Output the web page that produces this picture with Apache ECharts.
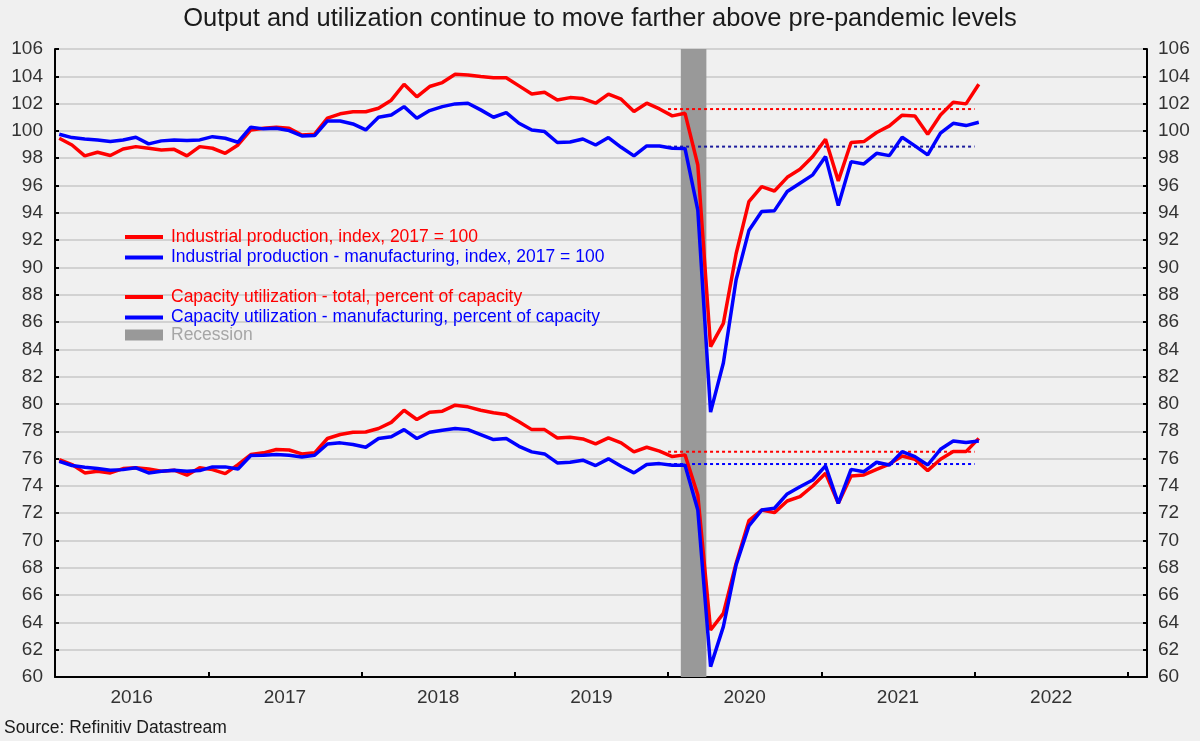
<!DOCTYPE html>
<html>
<head>
<meta charset="utf-8">
<script src="https://cdn.jsdelivr.net/npm/echarts@6/dist/echarts.min.js"></script>
<style>
  html, body { margin: 0; padding: 0; background: #f0f0f0; }
  #chart { width: 1200px; height: 741px; }
</style>
</head>
<body>
<div id="chart"></div>
<script>
// monthly data, Jan 2016 .. Jan 2022
const ipTotal = [
  99.46, 98.97, 98.17, 98.44, 98.2, 98.68, 98.85, 98.73, 98.6, 98.65, 98.17, 98.85,
  98.73, 98.36, 98.97, 100.07, 100.2, 100.27, 100.2, 99.7, 99.76, 100.93, 101.25, 101.4,
  101.4, 101.66, 102.25, 103.42, 102.5, 103.25, 103.54, 104.15, 104.1, 103.98, 103.9, 103.9,
  103.3, 102.7, 102.83, 102.27, 102.44, 102.37, 102.03, 102.69, 102.32, 101.42, 102.03, 101.61,
  101.1, 101.29, 97.5, 84.2, 85.9, 91.0, 94.82, 95.92, 95.6, 96.6, 97.19, 98.12,
  99.39, 96.34, 99.15, 99.22, 99.88, 100.37, 101.15, 101.1, 99.76, 101.17, 102.1, 101.98,
  103.42
];
const ipMfg = [
  99.76, 99.51, 99.41, 99.34, 99.22, 99.34, 99.54, 99.05, 99.27, 99.34, 99.29, 99.34,
  99.58, 99.46, 99.17, 100.27, 100.15, 100.2, 100.02, 99.63, 99.66, 100.73, 100.73, 100.51,
  100.07, 101.0, 101.17, 101.78, 100.93, 101.49, 101.78, 101.98, 102.03, 101.54, 101.0, 101.34,
  100.56, 100.07, 99.95, 99.15, 99.19, 99.41, 98.97, 99.51, 98.8, 98.17, 98.9, 98.9,
  98.73, 98.71, 94.2, 79.4, 83.0, 89.1, 92.7, 94.09, 94.16, 95.56, 96.17, 96.78,
  98.12, 94.53, 97.75, 97.58, 98.36, 98.19, 99.54, 98.9, 98.24, 99.83, 100.56, 100.39,
  100.63
];
const cuTotal = [
  75.93, 75.56, 74.95, 75.07, 74.95, 75.27, 75.32, 75.24, 75.07, 75.15, 74.78, 75.32,
  75.19, 74.9, 75.56, 76.29, 76.42, 76.66, 76.63, 76.34, 76.42, 77.47, 77.76, 77.93,
  77.95, 78.2, 78.65, 79.54, 78.86, 79.39, 79.47, 79.91, 79.79, 79.54, 79.35, 79.22,
  78.69, 78.12, 78.12, 77.51, 77.56, 77.44, 77.07, 77.51, 77.15, 76.49, 76.83, 76.54,
  76.15, 76.27, 73.33, 63.44, 64.66, 68.33, 71.45, 72.23, 72.04, 72.89, 73.21, 73.99,
  74.92, 72.72, 74.73, 74.8, 75.21, 75.6, 76.19, 75.95, 75.12, 75.95, 76.51, 76.51,
  77.48
];
const cuMfg = [
  75.8, 75.49, 75.37, 75.27, 75.15, 75.19, 75.32, 74.95, 75.07, 75.15, 75.07, 75.12,
  75.39, 75.39, 75.24, 76.22, 76.24, 76.29, 76.24, 76.12, 76.24, 77.07, 77.15, 77.03,
  76.83, 77.47, 77.6, 78.12, 77.47, 77.93, 78.08, 78.2, 78.12, 77.76, 77.39, 77.47,
  76.9, 76.49, 76.34, 75.68, 75.73, 75.88, 75.49, 75.98, 75.44, 74.95, 75.56, 75.63,
  75.51, 75.51, 72.23, 60.76, 63.69, 68.21, 71.06, 72.23, 72.36, 73.41, 73.94, 74.43,
  75.46, 72.72, 75.21, 75.04, 75.73, 75.53, 76.51, 76.14, 75.53, 76.68, 77.29, 77.17,
  77.29
];

// pre-pandemic reference levels (dotted), in the same order as above
const preLevels = [101.6, 98.85, 76.5, 75.6];
const preSpan = [48, 72];          // months from Jan 2016
const recession = [49, 51];        // Feb 2020 .. Apr 2020
const years = [2016, 2017, 2018, 2019, 2020, 2021, 2022];

const names = [
  'Industrial production, index, 2017 = 100',
  'Industrial production - manufacturing, index, 2017 = 100',
  'Capacity utilization - total, percent of capacity',
  'Capacity utilization - manufacturing, percent of capacity',
];

const RED = '#ff0000';
const BLUE = '#0000ff';
const FONT = 'Liberation Sans, Arial, sans-serif';

// month index -> x position (points sit a little into the month)
let toPoints = function(arr) {
  return arr.map((v, i) => [i + 0.33, v]);
};

let lineSeries = function(name, data, color) {
  return {
    name: name,
    type: 'line',
    data: toPoints(data),
    showSymbol: false,
    symbol: 'none',
    z: 3,
    lineStyle: { color: color, width: 3.5 },
    itemStyle: { color: color },
  };
};

let dottedSeries = function(level, color) {
  return {
    type: 'line',
    data: [[preSpan[0], level], [preSpan[1], level]],
    symbol: 'none',
    z: 2,
    lineStyle: { color: color, width: 2, type: [3, 3] },
  };
};

const chart = echarts.init(document.getElementById('chart'));

const legendBase = {
  orient: 'vertical',
  left: 125,
  padding: 0,
  itemGap: 2.5,
  itemWidth: 38,
  itemHeight: 4,
  icon: 'rect',
  selectedMode: false,
  textStyle: { fontFamily: FONT, fontSize: 17.5, padding: [0, 0, 0, 3] },
};

const option = {
  backgroundColor: '#f0f0f0',
  animation: false,
  title: [
    {
      text: 'Output and utilization continue to move farther above pre-pandemic levels',
      left: 'center',
      top: 6,
      padding: 0,
      textStyle: { fontFamily: FONT, fontSize: 25.5, fontWeight: 'normal', color: '#1a1a1a' },
    },
    {
      text: 'Source: Refinitiv Datastream',
      left: 4,
      top: 719,
      padding: 0,
      textStyle: { fontFamily: FONT, fontSize: 17.5, fontWeight: 'normal', color: '#1a1a1a' },
    },
  ],
  legend: [
    Object.assign({}, legendBase, {
      top: 228,
      data: [
        { name: names[0], textStyle: { color: RED } },
        { name: names[1], textStyle: { color: BLUE } },
      ],
    }),
    Object.assign({}, legendBase, {
      top: 288,
      data: [
        { name: names[2], textStyle: { color: RED } },
        { name: names[3], textStyle: { color: BLUE } },
      ],
    }),
    Object.assign({}, legendBase, {
      top: 326,
      itemHeight: 11,
      data: [{ name: 'Recession', textStyle: { color: '#a6a6a6' } }],
    }),
  ],
  grid: { left: 55, right: 53, top: 49, bottom: 64 },
  xAxis: {
    type: 'value',
    min: 0,
    max: 85.5,
    interval: 12,
    axisLine: { lineStyle: { color: '#000', width: 2 } },
    axisTick: {
      inside: true,
      length: 5,
      lineStyle: { color: '#000', width: 2 },
      customValues: [0, 12, 24, 36, 48, 60, 72, 84],
    },
    axisLabel: {
      customValues: years.map((y, i) => i * 12 + 6),
      formatter: v => String(years[Math.round((v - 6) / 12)]),
      fontFamily: FONT,
      fontSize: 19,
      color: '#333',
      margin: 11,
    },
    splitLine: { show: false },
  },
  yAxis: [
    {
      type: 'value',
      position: 'left',
      min: 60,
      max: 106,
      interval: 2,
      axisLine: { show: true, lineStyle: { color: '#000', width: 2 } },
      axisTick: { show: true, inside: true, length: 4, lineStyle: { color: '#000', width: 2 } },
      axisLabel: { fontFamily: FONT, fontSize: 19, color: '#333', margin: 12 },
      splitLine: { lineStyle: { color: '#c8c8c8', width: 1.5 } },
    },
    {
      type: 'value',
      position: 'right',
      min: 60,
      max: 106,
      interval: 2,
      axisLine: { show: true, lineStyle: { color: '#000', width: 2 } },
      axisTick: { show: true, inside: true, length: 4, lineStyle: { color: '#000', width: 2 } },
      axisLabel: { fontFamily: FONT, fontSize: 19, color: '#333', margin: 11 },
      splitLine: { show: false },
    },
  ],
  series: [
    {
      name: 'Recession',
      type: 'line',
      data: [],
      z: 1,
      itemStyle: { color: '#999999' },
      lineStyle: { color: '#999999' },
      markArea: {
        silent: true,
        itemStyle: { color: '#999999', opacity: 1 },
        data: [[{ xAxis: recession[0] }, { xAxis: recession[1] }]],
      },
    },
    dottedSeries(preLevels[0], RED),
    dottedSeries(preLevels[1], '#1c1c9c'),
    dottedSeries(preLevels[2], RED),
    dottedSeries(preLevels[3], BLUE),
    lineSeries(names[0], ipTotal, RED),
    lineSeries(names[1], ipMfg, BLUE),
    lineSeries(names[2], cuTotal, RED),
    lineSeries(names[3], cuMfg, BLUE),
  ],
};

chart.clear();
chart.setOption(option);
</script>
</body>
</html>
